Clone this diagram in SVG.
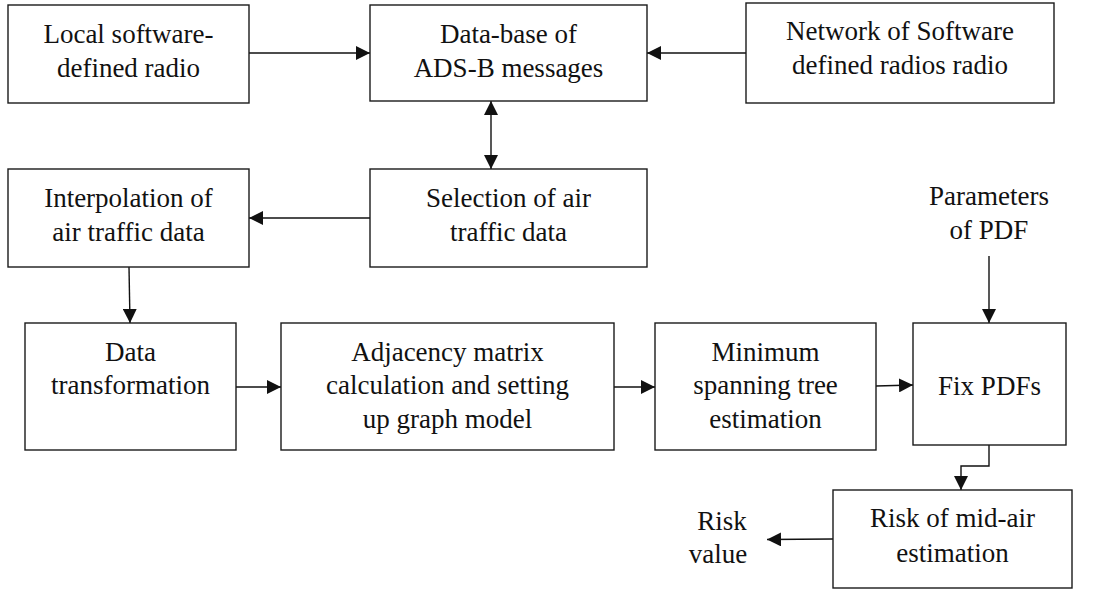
<svg xmlns="http://www.w3.org/2000/svg" width="1113" height="589" viewBox="0 0 1113 589">
<style>
.box{fill:#fff;stroke:#1a1a1a;stroke-width:1.4}
.t{font-size:27px;fill:#111;text-anchor:middle}
.c{fill:none;stroke:#111;stroke-width:1.4}
</style>
<defs>
<marker id="ah" markerUnits="userSpaceOnUse" markerWidth="15" markerHeight="14" refX="14" refY="7" orient="auto-start-reverse" viewBox="0 0 15 14">
<path d="M0,0 L14,7 L0,14 z" fill="#111"/>
</marker>
</defs>
<rect width="1113" height="589" fill="#fff"/>
<g id="connectors">
<line class="c" x1="249" y1="53" x2="370" y2="53" marker-end="url(#ah)"/>
<line class="c" x1="746" y1="53" x2="647" y2="53" marker-end="url(#ah)"/>
<line class="c" x1="491" y1="101" x2="491" y2="169" marker-start="url(#ah)" marker-end="url(#ah)"/>
<line class="c" x1="370" y1="218" x2="249" y2="218" marker-end="url(#ah)"/>
<line class="c" x1="129" y1="267" x2="130" y2="323" marker-end="url(#ah)"/>
<line class="c" x1="236" y1="387" x2="281" y2="387" marker-end="url(#ah)"/>
<line class="c" x1="614" y1="387" x2="655" y2="387" marker-end="url(#ah)"/>
<line class="c" x1="876" y1="386" x2="913" y2="385" marker-end="url(#ah)"/>
<line class="c" x1="989" y1="256" x2="989" y2="323" marker-end="url(#ah)"/>
<polyline class="c" points="989,445 989,466 961,466 961,490" marker-end="url(#ah)"/>
<line class="c" x1="833" y1="539" x2="767" y2="539.5" marker-end="url(#ah)"/>
</g>
<g font-family="'Liberation Serif', 'Times New Roman', 'DejaVu Serif', serif">
<g id="local">
<rect class="box" x="8" y="5" width="241" height="98"/>
<text class="t" x="128.5" y="43">Local software-</text>
<text class="t" x="128.5" y="77">defined radio</text>
</g>
<g id="database">
<rect class="box" x="370" y="5" width="277" height="96"/>
<text class="t" x="508.5" y="43">Data-base of</text>
<text class="t" x="508.5" y="77">ADS-B messages</text>
</g>
<g id="network">
<rect class="box" x="746" y="3" width="308" height="100"/>
<text class="t" x="900" y="40">Network of Software</text>
<text class="t" x="900" y="74">defined radios radio</text>
</g>
<g id="interpolation">
<rect class="box" x="8" y="169" width="241" height="98"/>
<text class="t" x="128.5" y="207">Interpolation of</text>
<text class="t" x="128.5" y="241">air traffic data</text>
</g>
<g id="selection">
<rect class="box" x="370" y="169" width="277" height="98"/>
<text class="t" x="508.5" y="207">Selection of air</text>
<text class="t" x="508.5" y="241">traffic data</text>
</g>
<g id="parameters">
<text class="t" x="989" y="205">Parameters</text>
<text class="t" x="989" y="239">of PDF</text>
</g>
<g id="transformation">
<rect class="box" x="25" y="323" width="211" height="127"/>
<text class="t" x="130.5" y="361">Data</text>
<text class="t" x="130.5" y="394">transformation</text>
</g>
<g id="adjacency">
<rect class="box" x="281" y="323" width="333" height="127"/>
<text class="t" x="447.5" y="361">Adjacency matrix</text>
<text class="t" x="447.5" y="394">calculation and setting</text>
<text class="t" x="447.5" y="428">up graph model</text>
</g>
<g id="mst">
<rect class="box" x="655" y="323" width="221" height="127"/>
<text class="t" x="765.5" y="361">Minimum</text>
<text class="t" x="765.5" y="394">spanning tree</text>
<text class="t" x="765.5" y="428">estimation</text>
</g>
<g id="fixpdfs">
<rect class="box" x="913" y="323" width="153" height="122"/>
<text class="t" x="989.5" y="395">Fix PDFs</text>
</g>
<g id="risk">
<rect class="box" x="833" y="490" width="239" height="98"/>
<text class="t" x="952.5" y="527">Risk of mid-air</text>
<text class="t" x="952.5" y="562">estimation</text>
</g>
<g id="riskvalue">
<text class="t" x="722" y="530">Risk</text>
<text class="t" x="718" y="563">value</text>
</g>
</g>
</svg>
